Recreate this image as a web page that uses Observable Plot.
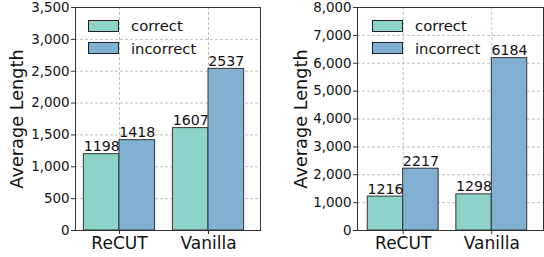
<!DOCTYPE html>
<html>
<head>
<meta charset="utf-8">
<script src="https://cdn.jsdelivr.net/npm/d3@7"></script>
<script src="https://cdn.jsdelivr.net/npm/@observablehq/plot@0.6"></script>
<style>
  html, body { margin: 0; padding: 0; background: #fff; }
  #wrap { position: relative; width: 544px; height: 257px; font-family: "DejaVu Sans", sans-serif; }
  .panel { position: absolute; top: 0; width: 272px; height: 257px; }
  .legend { position: absolute; font-size: 14.8px; color: #111; }
  .legend .row { position: absolute; white-space: nowrap; display: flex; align-items: center; }
  .legend .sw { width: 29px; height: 10px; border: 1px solid #222; margin-right: 12px; }
</style>
</head>
<body>
<div id="wrap"></div>
<script>
const groups = ["ReCUT", "Vanilla"];
const seriesNames = ["correct", "incorrect"];
const colors = ["#8dd3c7", "#80b1d3"];
const leftCorrect = [1198, 1607];
const leftIncorrect = [1418, 2537];
const rightCorrect = [1216, 1298];
const rightIncorrect = [2217, 6184];
const leftTicks = [0, 500, 1000, 1500, 2000, 2500, 3000, 3500];
const rightTicks = [0, 1000, 2000, 3000, 4000, 5000, 6000, 7000, 8000];
const yLabel = "Average Length";

const barWidth = 0.4;

function buildRows(correct, incorrect) {
  const rows = [];
  groups.forEach((g, gi) => {
    [correct, incorrect].forEach((arr, si) => {
      const x1 = gi - barWidth + si * barWidth;
      rows.push({group: g, series: seriesNames[si], value: arr[gi], x1, x2: x1 + barWidth, xc: x1 + barWidth / 2});
    });
  });
  return rows;
}

function makePanel(correct, incorrect, ticks, opts) {
  const rows = buildRows(correct, incorrect);
  const fmt = d3.format(",");
  return Plot.plot({
    width: 272,
    height: 257,
    marginLeft: opts.marginLeft,
    marginRight: opts.marginRight,
    marginTop: 7,
    marginBottom: 27,
    style: {fontFamily: "DejaVu Sans, sans-serif", color: "#111", background: "#fff", overflow: "visible"},
    x: {domain: opts.xDomain},
    y: {domain: [ticks[0], ticks[ticks.length - 1]]},
    color: {domain: seriesNames, range: colors},
    marks: [
      Plot.gridY(ticks, {stroke: "#b0b0b0", strokeOpacity: 0.8, strokeDasharray: "3,2"}),
      Plot.gridX([0, 1], {stroke: "#b0b0b0", strokeOpacity: 0.8, strokeDasharray: "3,2"}),
      Plot.rectY(rows, {x1: "x1", x2: "x2", y: "value", fill: "series", stroke: "#333", strokeWidth: 1}),
      Plot.text(rows, {x: "xc", y: "value", text: d => String(d.value), lineAnchor: "bottom", dy: -3, fontSize: 14.2, fill: "#111"}),
      Plot.axisY(ticks, {tickFormat: fmt, tickSize: 4, tickPadding: 2, fontSize: 13.4, label: null, stroke: "#333"}),
      Plot.axisX([0, 1], {tickFormat: i => groups[i], tickSize: 4, tickPadding: 2, fontSize: 17, label: null, stroke: "#333"}),
      Plot.text([yLabel], {frameAnchor: "left", textAnchor: "middle", lineAnchor: "middle", rotate: -90, dx: opts.labelDx, fontSize: 17.7, fill: "#111"}),
      Plot.frame({stroke: "#333", strokeWidth: 1})
    ]
  });
}

const wrap = document.getElementById("wrap");

function addPanel(left, svg, legendLeft) {
  const div = document.createElement("div");
  div.className = "panel";
  div.style.left = left + "px";
  div.appendChild(svg);
  const lg = document.createElement("div");
  lg.className = "legend";
  lg.style.left = legendLeft + "px";
  lg.style.top = "0px";
  seriesNames.forEach((s, i) => {
    const row = document.createElement("div");
    row.className = "row";
    row.style.top = (17 + i * 22.5) + "px";
    row.style.left = "0px";
    const sw = document.createElement("span");
    sw.className = "sw";
    sw.style.background = colors[i];
    const t = document.createElement("span");
    t.textContent = s;
    row.appendChild(sw);
    row.appendChild(t);
    lg.appendChild(row);
  });
  div.appendChild(lg);
  wrap.appendChild(div);
}

addPanel(0, makePanel(leftCorrect, leftIncorrect, leftTicks, {marginLeft: 75, marginRight: 12, xDomain: [-0.494, 1.584], labelDx: -58}), 88);
addPanel(272, makePanel(rightCorrect, rightIncorrect, rightTicks, {marginLeft: 85, marginRight: 1, xDomain: [-0.516, 1.584], labelDx: -56}), 100);
</script>
</body>
</html>
